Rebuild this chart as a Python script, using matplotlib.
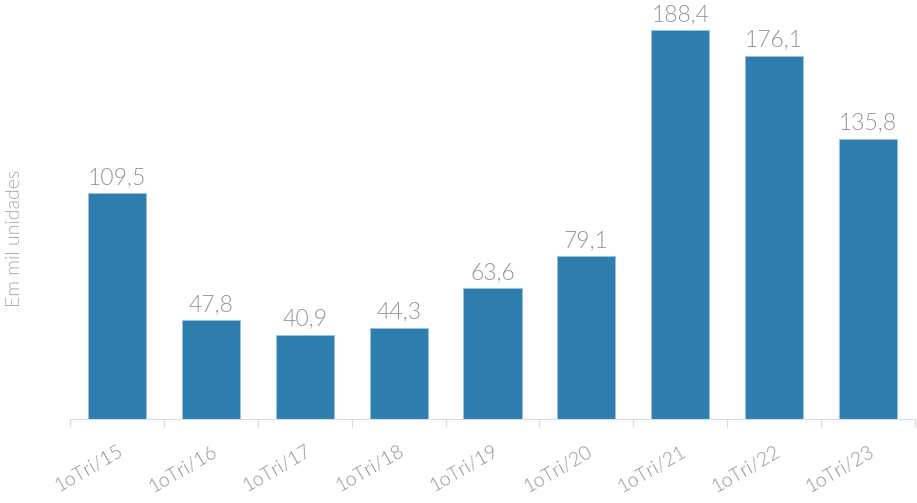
import matplotlib
matplotlib.use('Agg')
import matplotlib.pyplot as plt
import numpy as np

categorias = ['1oTri/15', '1oTri/16', '1oTri/17', '1oTri/18', '1oTri/19',
              '1oTri/20', '1oTri/21', '1oTri/22', '1oTri/23']
valores = [109.5, 47.8, 40.9, 44.3, 63.6, 79.1, 188.4, 176.1, 135.8]

plt.rcParams['font.family'] = ['Lato', 'DejaVu Sans']
cinza = '#959595'

fig = plt.figure(figsize=(9.17, 5.03), dpi=100)
ax = fig.add_axes([70 / 917, 84 / 503, 845 / 917, 419 / 503])

x = np.arange(len(categorias))
barras = ax.bar(x, valores, width=0.62, color='#2e7eb0', edgecolor='#9cc3dd', linewidth=0.6)

for xi, v in zip(x, valores):
    ax.text(xi, v + 2.5, f'{v:.1f}'.replace('.', ','), ha='center', va='bottom',
            fontsize=16.5, color=cinza, fontweight=300)

ax.set_xlim(-0.5, len(categorias) - 0.5)
ax.set_ylim(0, 203)
ax.set_yticks([])

ax.set_xticks(x)
ax.set_xticklabels(categorias, rotation=30, ha='right', rotation_mode='anchor',
                   fontsize=14, color=cinza, fontweight=300)
ax.set_xticks(np.arange(len(categorias) + 1) - 0.5, minor=True)
ax.tick_params(axis='x', which='major', length=0, pad=17)
ax.tick_params(axis='x', which='minor', length=6, color='#d8dce6', width=1)

for lado in ['top', 'right', 'left']:
    ax.spines[lado].set_visible(False)
ax.spines['bottom'].set_color('#d8dce6')

fig.text(15 / 917, 1 - 238 / 503, 'Em mil unidades', rotation=90, ha='center', va='center',
         fontsize=14, color='#a8a8a8', fontweight=300)

fig.savefig('out.png', dpi=100)
